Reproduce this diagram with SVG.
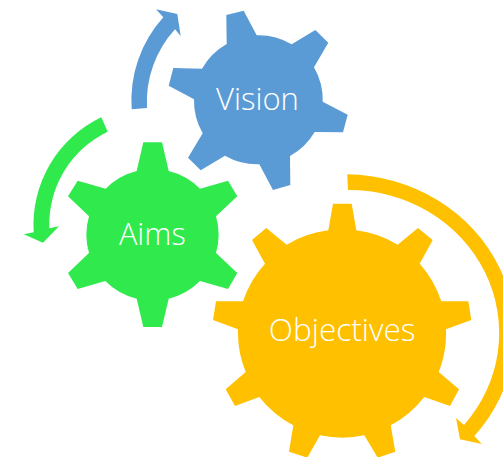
<svg xmlns="http://www.w3.org/2000/svg" width="503" height="457" viewBox="0 0 503 457">
<style>
.blue{fill:#5B9BD5}.green{fill:#30EA4D}.orange{fill:#FFC000}
text{font-family:"Open Sans","Noto Sans","Liberation Sans",sans-serif;font-weight:300;fill:#fff;text-anchor:middle}
</style>
<rect width="503" height="457" fill="#fff"/>
<g id="connectors">
<path id="arrow-blue" class="blue" d="M131.7 109.3A124 124 0 0 1 163.3 17.3L156 9.3L177.3 14L180.7 36L175 29.3A108 108 0 0 0 147 108Z"/>
<path id="arrow-green" class="green" d="M101.3 117.3A119 119 0 0 0 33.7 232.3L23.7 234.3L43 242.7L59 226.3L49.3 228.3A103 103 0 0 1 107.7 131.7Z"/>
<path id="arrow-orange" class="orange" d="M347.3 174.3A170 159 0 0 1 474.3 436L481.7 444L460 439.3L456 418L464 425A150 143 0 0 0 348 190Z"/>
</g>
<g id="node-vision">
<path class="blue" d="M226.7 44L226.3 15L243.7 10.7L256.7 35.3A65 65 0 0 1 291.7 44.3L315.3 30L328.3 42.7L314 67.3A65 65 0 0 1 322.7 101.7L347.7 114.7L343 132.3L314.7 132A65 65 0 0 1 290 156L290.3 185L273 190L259.3 164.3A65 65 0 0 1 225 155.7L200.7 170.3L188 157.7L202.7 133.3A65 65 0 0 1 194 99.3L168.7 85.7L173.3 68L202 68.7A65 65 0 0 1 226.7 44Z"/>
<text x="257.5" y="110" font-size="31">Vision</text>
</g>
<g id="node-aims">
<path class="green" d="M136.7 171L143.3 142.3H162L168.7 171A66 66 0 0 1 200 188.7L228 180.7L237.3 196.3L216 216.3A66 66 0 0 1 216 253L237.3 273L228 289L200 281A66 66 0 0 1 168.7 298.7L162 327H143.3L136.7 298.7A66 66 0 0 1 105.3 281L77.7 289L68 273L89 253A66 66 0 0 1 89 216.3L68 196.3L77.7 180.7L105.7 188.7A66 66 0 0 1 136.7 171Z"/>
<text x="152.3" y="244.7" font-size="30.7">Aims</text>
</g>
<g id="node-objectives">
<path class="orange" d="M328.3 230.3L333 203.7H351.7L356.3 230.3A104 104 0 0 1 397.7 244.7L418 228L432.7 240L419.7 263.7A104 104 0 0 1 441.3 301.3H468.3L471.3 320L446 329.3A104 104 0 0 1 438.7 372L459 389.3L450 406L424.3 397A104 104 0 0 1 390.7 425.3L395.3 451.7L377.7 457.7L364.3 435.3A104 104 0 0 1 320 435.3L307.3 457.7L289 451.7L293.3 425.3A104 104 0 0 1 259.3 397L235 406L225.7 389.3L245.7 372A104 104 0 0 1 238 329.3L213 320L216 301.3H243A104 104 0 0 1 265 263.7L252 240L266.3 228L286.7 244.7A104 104 0 0 1 328.3 230.3Z"/>
<text x="342.2" y="341" font-size="31.6">Objectives</text>
</g>
</svg>
